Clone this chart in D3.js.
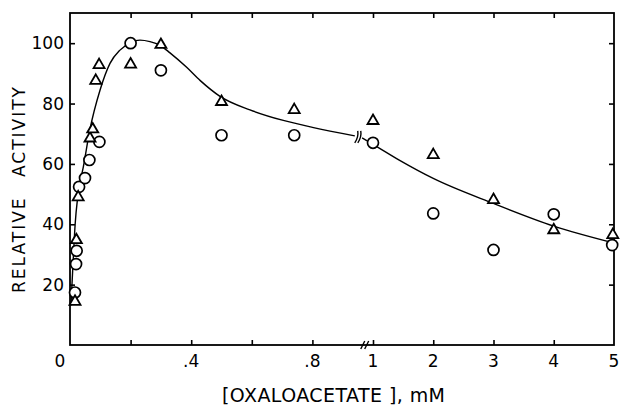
<!DOCTYPE html>
<html>
<head>
<meta charset="utf-8">
<script src="https://cdn.jsdelivr.net/npm/d3@7/dist/d3.min.js"></script>
<style>
  html, body { margin: 0; padding: 0; background: #fff; }
  svg { display: block; }
  text { font-family: "DejaVu Sans", sans-serif; fill: #000; }
</style>
</head>
<body>
<svg id="chart" width="621" height="408"></svg>
<script>
// ---- data ----
const xTickValues = [0, 0.2, 0.4, 0.6, 0.8, 1, 2, 3, 4, 5];
const xTickLabels = ["0", "", ".4", "", ".8", "1", "2", "3", "4", "5"];
const yTickValues = [20, 40, 60, 80, 100];
const yTickLabels = ["20", "40", "60", "80", "100"];

const circleX = [0.0165, 0.02, 0.022, 0.03, 0.0495, 0.064, 0.097, 0.2, 0.3, 0.5, 0.74, 1, 2, 3, 4, 4.97];
const circleY = [17.4, 26.8, 31.2, 52.4, 55.3, 61.3, 67.3, 100, 91, 69.5, 69.5, 67, 43.6, 31.5, 43.3, 33.1];

const triX = [0.0165, 0.021, 0.027, 0.066, 0.075, 0.085, 0.096, 0.2, 0.3, 0.5, 0.74, 1, 2, 3, 4, 4.98];
const triY = [14.9, 35.3, 49.5, 69.0, 72.0, 88.1, 93.3, 93.5, 100, 81.1, 78.4, 74.8, 63.5, 48.6, 38.6, 37.0];

const curveLeftX = [0.003, 0.01, 0.017, 0.026, 0.044, 0.066, 0.099, 0.132, 0.165, 0.2, 0.231, 0.264, 0.297, 0.33, 0.385, 0.43, 0.495, 0.594, 0.704, 0.8, 0.94];
const curveLeftY = [13, 27, 40, 49.5, 59, 71.5, 84.4, 93.3, 97.7, 100.2, 101, 100.5, 99.3, 96.8, 92.0, 87.6, 82.4, 77.9, 74.4, 72.1, 69.3];
const curveRightX = [0.964, 1.0, 1.45, 2.0, 3, 4, 5];
const curveRightY = [68.6, 66.5, 61.1, 55.2, 46.9, 39.4, 33.8];

const breakX = [0.948, 0.958];     // "//" on the curve
const axisBreakX = [0.976, 0.989]; // "//" on the x axis

const xTitle = "[OXALOACETATE ], mM";
const yTitle = "RELATIVE ACTIVITY";

// ---- layout ----
const svg = d3.select("#chart");
const L = 70, R = 614, T = 13, B = 345;

const x = d3.scaleLinear().domain([0, 1, 5]).range([L, 373, R]);
const y = d3.scaleLinear().domain([0, 110]).range([B, T]);

const black = "#000";

// frame
svg.append("rect")
  .attr("x", L).attr("y", T).attr("width", R - L).attr("height", B - T)
  .attr("fill", "none").attr("stroke", black).attr("stroke-width", 1.8);

const tickLen = 5;
const innerX = xTickValues.filter(v => v > 0 && v < 5);

// bottom axis ticks (inward) + labels
const gBottom = svg.append("g").attr("transform", `translate(0,${B})`)
  .call(d3.axisBottom(x).tickValues(innerX).tickSizeInner(-tickLen).tickSizeOuter(0).tickFormat(""));
gBottom.select(".domain").remove();
gBottom.selectAll(".tick line").attr("stroke", black).attr("stroke-width", 1.6);

svg.append("g").selectAll("text")
  .data(xTickValues.map((v, i) => ({ v, t: xTickLabels[i] })).filter(d => d.t !== ""))
  .join("text")
  .attr("x", d => d.v === 0 ? x(d.v) - 10 : x(d.v))
  .attr("y", 367)
  .attr("text-anchor", "middle")
  .attr("font-size", 17)
  .text(d => d.t);

// top axis ticks (inward)
const gTop = svg.append("g").attr("transform", `translate(0,${T})`)
  .call(d3.axisTop(x).tickValues(innerX).tickSizeInner(-tickLen).tickSizeOuter(0).tickFormat(""));
gTop.select(".domain").remove();
gTop.selectAll(".tick line").attr("stroke", black).attr("stroke-width", 1.6);

// left axis ticks (inward) + labels
const gLeft = svg.append("g").attr("transform", `translate(${L},0)`)
  .call(d3.axisLeft(y).tickValues(yTickValues).tickSizeInner(-tickLen).tickSizeOuter(0).tickFormat(""));
gLeft.select(".domain").remove();
gLeft.selectAll(".tick line").attr("stroke", black).attr("stroke-width", 1.6);

svg.append("g").selectAll("text")
  .data(yTickValues.map((v, i) => ({ v, t: yTickLabels[i] })))
  .join("text")
  .attr("x", L - 6)
  .attr("y", d => y(d.v))
  .attr("dy", "0.36em")
  .attr("text-anchor", "end")
  .attr("font-size", 17)
  .text(d => d.t);

// right axis ticks (inward)
const gRight = svg.append("g").attr("transform", `translate(${R},0)`)
  .call(d3.axisRight(y).tickValues(yTickValues).tickSizeInner(-tickLen).tickSizeOuter(0).tickFormat(""));
gRight.select(".domain").remove();
gRight.selectAll(".tick line").attr("stroke", black).attr("stroke-width", 1.6);

// axis break marks on x axis
svg.append("g").selectAll("line")
  .data(axisBreakX)
  .join("line")
  .attr("x1", d => x(d) - 5).attr("y1", B + 4)
  .attr("x2", d => x(d) - 1).attr("y2", B - 4)
  .attr("stroke", black).attr("stroke-width", 1.4);

// axis titles
svg.append("text")
  .attr("transform", "translate(25,189) rotate(-90)")
  .attr("text-anchor", "middle")
  .attr("font-size", 17)
  .attr("letter-spacing", "2px")
  .attr("word-spacing", "12px")
  .text(yTitle);

svg.append("text")
  .attr("x", 222).attr("y", 402)
  .attr("font-size", 19)
  .attr("textLength", 223)
  .attr("lengthAdjust", "spacing")
  .text(xTitle);

// curve
const line = d3.line()
  .x(d => x(d[0])).y(d => y(d[1]))
  .curve(d3.curveMonotoneX);

svg.append("path")
  .datum(curveLeftX.map((v, i) => [v, curveLeftY[i]]))
  .attr("d", line)
  .attr("fill", "none").attr("stroke", black).attr("stroke-width", 1.4);

svg.append("path")
  .datum(curveRightX.map((v, i) => [v, curveRightY[i]]))
  .attr("d", line)
  .attr("fill", "none").attr("stroke", black).attr("stroke-width", 1.4);

// break marks on the curve
const yAtBreak = (curveLeftY[curveLeftY.length - 1] + curveRightY[0]) / 2;
svg.append("g").selectAll("path")
  .data(breakX)
  .join("path")
  .attr("d", d => `M${x(d) - 2.5},${y(yAtBreak) + 6} Q${x(d) + 1.5},${y(yAtBreak)} ${x(d) + 0.5},${y(yAtBreak) - 6}`)
  .attr("fill", "none").attr("stroke", black).attr("stroke-width", 1.4);

// markers
svg.append("g").selectAll("circle")
  .data(circleX.map((v, i) => [v, circleY[i]]))
  .join("circle")
  .attr("cx", d => x(d[0])).attr("cy", d => y(d[1]))
  .attr("r", 5.5)
  .attr("fill", "#fff").attr("stroke", black).attr("stroke-width", 1.7);

const tw = 11, th = 9.5;
svg.append("g").selectAll("path")
  .data(triX.map((v, i) => [v, triY[i]]))
  .join("path")
  .attr("transform", d => `translate(${x(d[0])},${y(d[1])})`)
  .attr("d", `M0,${-th / 2}L${tw / 2},${th / 2}L${-tw / 2},${th / 2}Z`)
  .attr("fill", "#fff").attr("stroke", black).attr("stroke-width", 1.8)
  .attr("stroke-linejoin", "miter");
</script>
</body>
</html>
